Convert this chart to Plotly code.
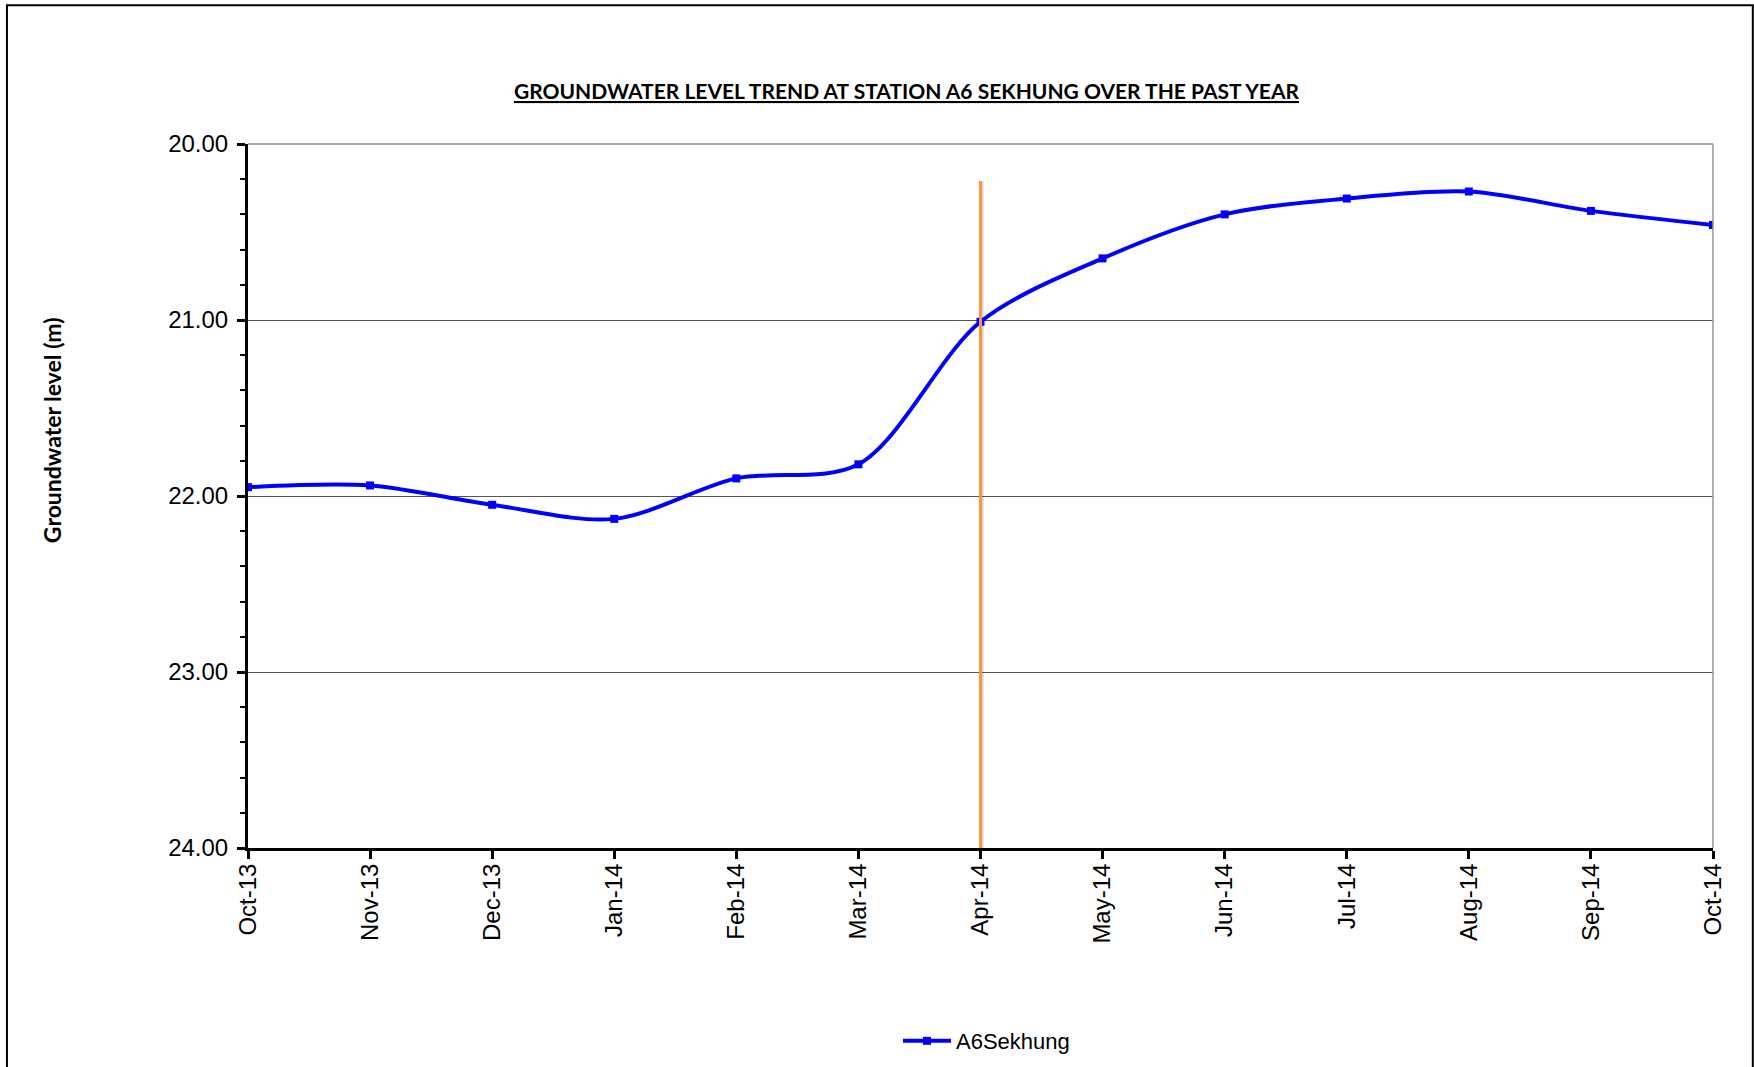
import plotly.graph_objects as go

# Monthly groundwater level readings (metres below datum) at station A6 Sekhung
months = ["Oct-13", "Nov-13", "Dec-13", "Jan-14", "Feb-14", "Mar-14", "Apr-14",
          "May-14", "Jun-14", "Jul-14", "Aug-14", "Sep-14", "Oct-14"]
levels = [21.95, 21.94, 22.05, 22.13, 21.90, 21.82, 21.01,
          20.65, 20.40, 20.31, 20.27, 20.38, 20.46]
series_name = "A6Sekhung"

y_ticks = [20, 21, 22, 23, 24]
marker_month = "Apr-14"
marker_top = 20.21

title_text = "GROUNDWATER LEVEL TREND AT STATION A6 SEKHUNG OVER THE PAST YEAR"
y_title = "Groundwater level (m)"

W, H = 1754, 1067
L, R, T, B = 248, 1712.7, 143.7, 848
PW, PH = R - L, B - T


def px_x(p):
    return (p - L) / PW


def px_y(p):
    return (B - p) / PH


FONT = "Liberation Sans, Arial, sans-serif"
TFONT = "Lato, Carlito, Calibri, sans-serif"

fig = go.Figure()
fig.add_trace(go.Scatter(
    x=months, y=levels, name=series_name, mode="lines+markers",
    line=dict(color="#0000FF", width=4, shape="spline", smoothing=0.9),
    marker=dict(symbol="square", size=8, color="#0000FF"),
))

xi = months.index(marker_month)
# soft shadow and the orange marker line at the selected month
fig.add_shape(type="line", xref="x", yref="y", x0=xi + 0.018, x1=xi + 0.018,
              y0=marker_top, y1=24, line=dict(color="rgba(150,150,150,0.35)", width=2),
              layer="below")
fig.add_shape(type="line", xref="x", yref="y", x0=xi, x1=xi,
              y0=marker_top, y1=24, line=dict(color="#F79646", width=3))

# plot-area top and right edges
fig.add_shape(type="line", xref="paper", yref="paper", x0=0, x1=1, y0=1, y1=1,
              line=dict(color="#888888", width=1.5))
fig.add_shape(type="line", xref="paper", yref="paper", x0=1, x1=1, y0=0, y1=1,
              line=dict(color="#999999", width=1.5))

# outer chart frame
fig.add_shape(type="rect", xref="paper", yref="paper",
              x0=px_x(7), x1=px_x(1752.5), y0=px_y(1075), y1=px_y(5),
              line=dict(color="black", width=2), fillcolor="rgba(0,0,0,0)")

fig.add_annotation(text="<u>" + title_text + "</u>", xref="paper", yref="paper",
                   x=px_x(906.5), y=px_y(90.5), xanchor="center", yanchor="middle",
                   showarrow=False, font=dict(family=TFONT, size=21, color="black", weight="bold"))
fig.add_annotation(text=y_title, xref="paper", yref="paper", textangle=-90,
                   x=px_x(52), y=px_y(430), xanchor="center", yanchor="middle",
                   showarrow=False, font=dict(family=TFONT, size=23, color="black", weight="bold"))

fig.update_layout(
    width=W, height=H,
    margin=dict(l=L, r=W - R, t=T, b=H - B, pad=0, autoexpand=False),
    paper_bgcolor="white", plot_bgcolor="white",
    font=dict(family=FONT, size=22, color="black"),
    showlegend=True,
    legend=dict(orientation="h", xref="container", yref="container",
                x=898 / W, y=1 - 1041 / H, xanchor="left", yanchor="middle",
                itemwidth=48,
                font=dict(family=FONT, size=22, color="black"), bgcolor="rgba(0,0,0,0)"),
    xaxis=dict(type="category", range=[0, len(months) - 1], tickangle=-90,
               automargin=False, tickfont=dict(size=24),
               showgrid=False, showline=True, linecolor="black", linewidth=3,
               ticks="outside", ticklen=8, tickwidth=3, tickcolor="black",
               zeroline=False, ticklabelstandoff=-5),
    yaxis=dict(range=[24, 20], tickvals=y_ticks, tickformat=".2f",
               automargin=False, tickfont=dict(size=24),
               showgrid=True, gridcolor="#555555", gridwidth=1,
               showline=True, linecolor="black", linewidth=3,
               ticks="outside", ticklen=8, tickwidth=3, tickcolor="black",
               zeroline=False, ticklabelstandoff=4,
               minor=dict(dtick=0.2, ticks="outside", ticklen=5, tickwidth=2,
                          tickcolor="black", showgrid=False)),
)

fig.write_html("out.html")
